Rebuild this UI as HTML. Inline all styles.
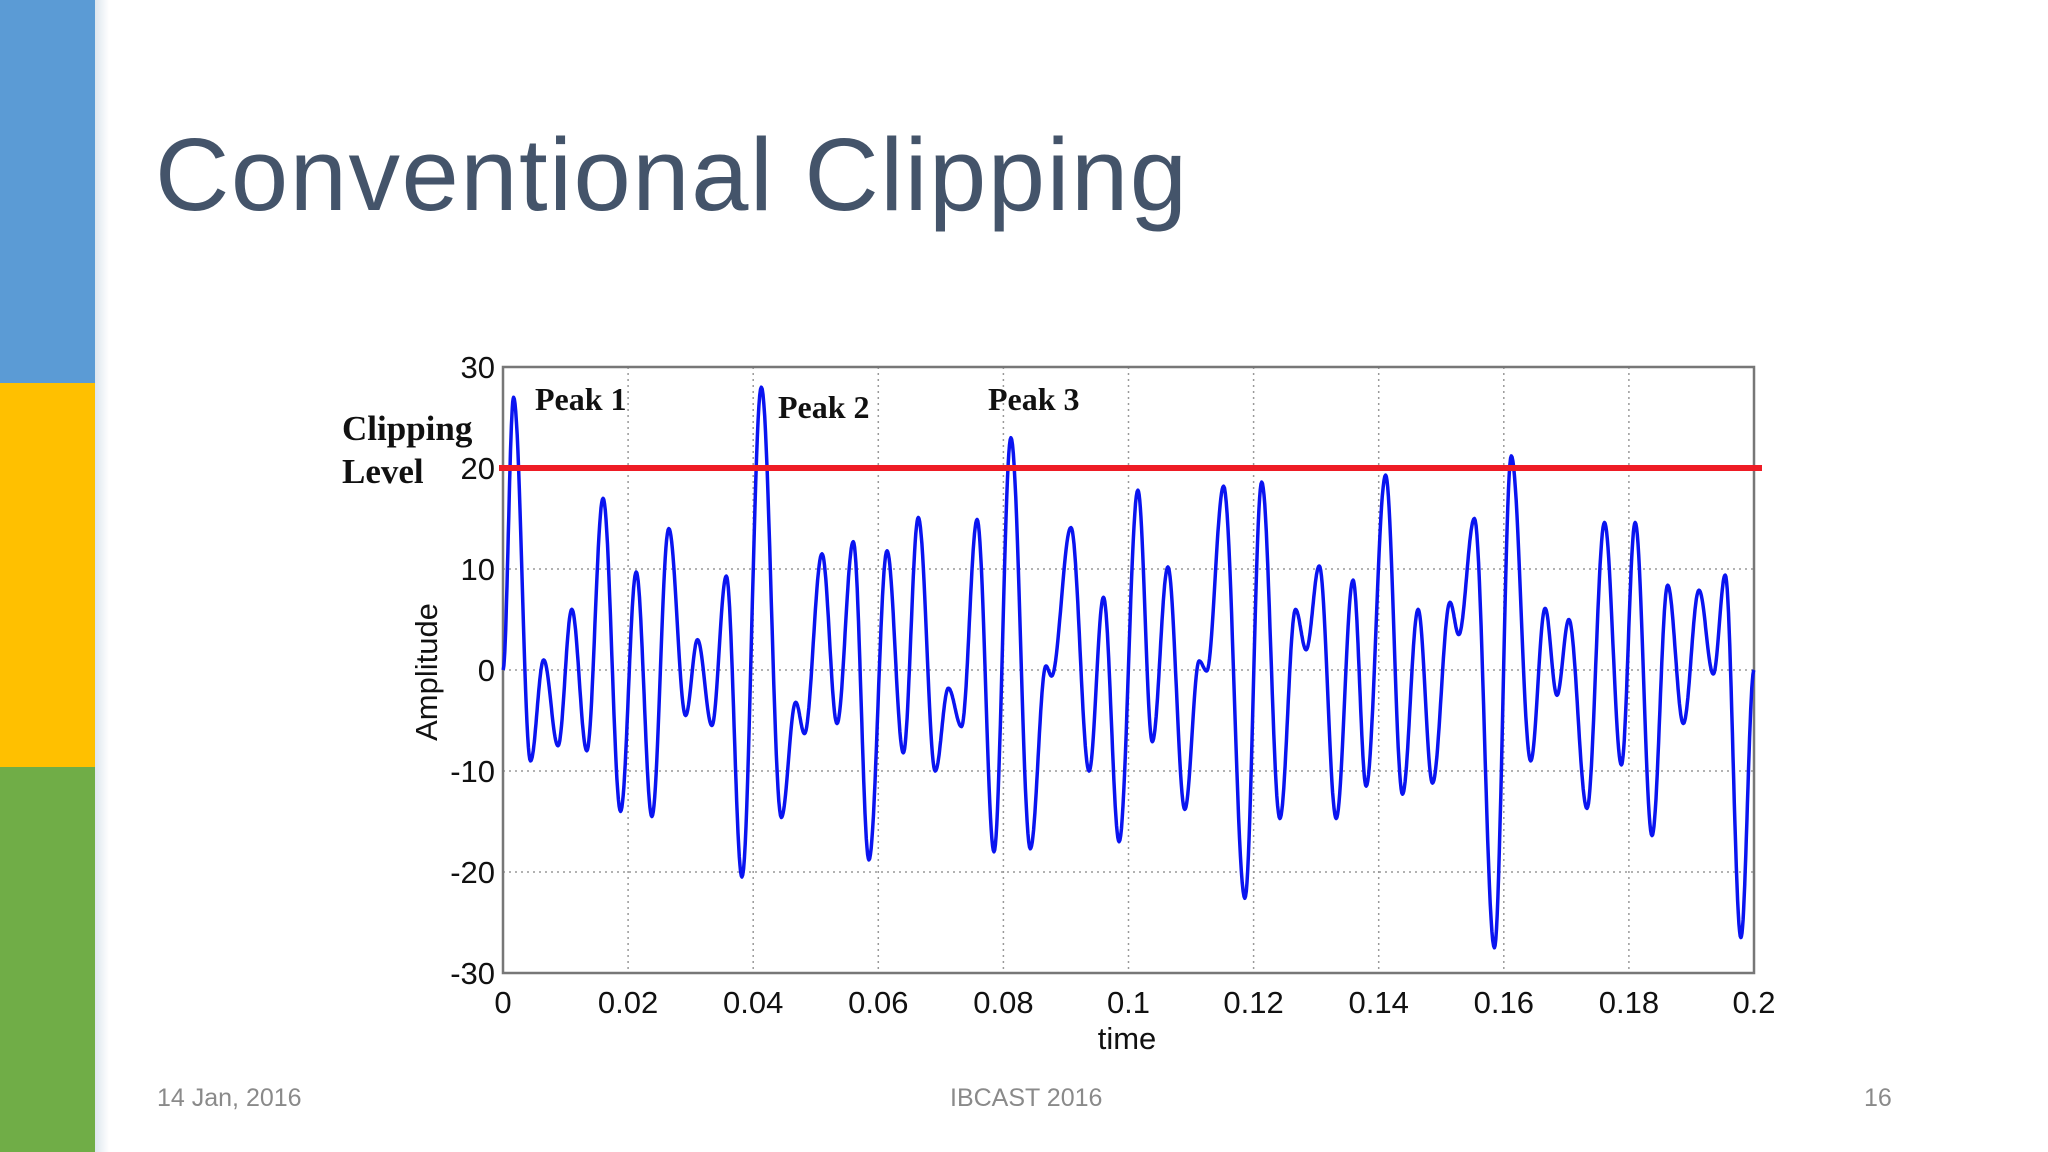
<!DOCTYPE html>
<html><head><meta charset="utf-8"><style>
html,body{margin:0;padding:0;width:2048px;height:1152px;overflow:hidden;background:#fff;font-family:"Liberation Sans",sans-serif}
.bar{position:absolute;left:0;width:95px}
.t{position:absolute;color:#8a8a8a;font-size:25px}
</style></head><body>
<div class="bar" style="top:0;height:383px;background:#5b9bd5"></div>
<div class="bar" style="top:383px;height:384px;background:#ffc000"></div>
<div class="bar" style="top:767px;height:385px;background:#70ad47"></div>
<div style="position:absolute;left:95px;top:0;width:14px;height:1152px;background:linear-gradient(to right,#dde6ee,#fff)"></div>
<div style="position:absolute;left:155px;top:116px;font-size:103px;color:#44546a;letter-spacing:1.5px">Conventional Clipping</div>
<div class="t" style="left:157px;top:1084px">14 Jan, 2016</div>
<div class="t" style="left:950px;top:1084px">IBCAST 2016</div>
<div class="t" style="left:1864px;top:1084px">16</div>
<svg id="chart" width="2048" height="1152" style="position:absolute;left:0;top:0"></svg>
<script>
const yTicks=[30,20,10,0,-10,-20,-30];
const xTicks=[0,0.02,0.04,0.06,0.08,0.1,0.12,0.14,0.16,0.18,0.2];
const xTickLabels=["0","0.02","0.04","0.06","0.08","0.1","0.12","0.14","0.16","0.18","0.2"];
const clipLevel=20;
const extT=[0,0.0017,0.0044,0.0065,0.0088,0.011,0.0134,0.016,0.0188,0.0213,0.0238,0.0265,0.0292,0.0311,0.0334,0.0357,0.0382,0.0413,0.0445,0.0468,0.0482,0.051,0.0534,0.056,0.0585,0.0614,0.064,0.0664,0.0691,0.0712,0.0733,0.0758,0.0785,0.0812,0.0843,0.0868,0.0877,0.0908,0.0937,0.096,0.0985,0.1015,0.1038,0.1063,0.109,0.1113,0.1125,0.1152,0.1186,0.1213,0.1242,0.1267,0.1284,0.1305,0.1332,0.1359,0.138,0.1411,0.1438,0.1463,0.1486,0.1514,0.1528,0.1553,0.1585,0.1612,0.1643,0.1666,0.1685,0.1704,0.1733,0.1761,0.1788,0.181,0.1837,0.1862,0.1887,0.1912,0.1935,0.1954,0.1979,0.2];
const extV=[0,27,-9,1,-7.5,6,-8,17,-14,9.7,-14.5,14,-4.5,3,-5.5,9.3,-20.5,28,-14.6,-3.2,-6.3,11.5,-5.3,12.7,-18.8,11.8,-8.2,15.1,-10,-1.8,-5.6,14.9,-18,23,-17.7,0.4,-0.6,14.1,-10,7.2,-17,17.8,-7.1,10.2,-13.8,0.9,-0.1,18.2,-22.6,18.6,-14.7,6,2,10.3,-14.7,8.9,-11.5,19.3,-12.3,6,-11.2,6.7,3.5,15,-27.5,21.2,-9,6.1,-2.5,5,-13.7,14.6,-9.4,14.6,-16.4,8.4,-5.3,7.9,-0.4,9.4,-26.5,0];
const peakLabels=["Peak 1","Peak 2","Peak 3"];
const L=503,R=1754,T=367,B=973;
const X=t=>L+(t-0)/(0.2)*(R-L);
const Y=v=>B-(v+30)/60*(B-T);
const svg=document.getElementById('chart');
const NS='http://www.w3.org/2000/svg';
function mk(tag,attrs){const e=document.createElementNS(NS,tag);for(const k in attrs)e.setAttribute(k,attrs[k]);svg.appendChild(e);return e;}
mk('rect',{x:L,y:T,width:R-L,height:B-T,fill:'#fff',stroke:'none'});
yTicks.forEach(v=>{
 const g=mk('line',{x1:L,x2:R,y1:Y(v),y2:Y(v),stroke:'#999','stroke-width':1.5,'stroke-dasharray':'2,4'});
 
 const t=mk('text',{x:L-8,y:Y(v)+11,'text-anchor':'end','font-size':31,fill:'#111','font-family':'Liberation Sans'});
 t.textContent=String(v);
 
});
xTicks.forEach((v,i)=>{
 const g=mk('line',{x1:X(v),x2:X(v),y1:T,y2:B,stroke:'#999','stroke-width':1.5,'stroke-dasharray':'2,4'});
 
 const t=mk('text',{x:X(v),y:B+40,'text-anchor':'middle','font-size':31,fill:'#111','font-family':'Liberation Sans'});
 t.textContent=xTickLabels[i];
 
});
const fr=mk('rect',{x:L,y:T,width:R-L,height:B-T,fill:'none',stroke:'#777','stroke-width':2.5});

let d='';
for(let i=0;i<extT.length-1;i++){
 const n=24;
 for(let k=0;k<=n;k++){
  if(i>0&&k===0)continue;
  const f=k/n, s=(1-Math.cos(Math.PI*f))/2;
  const t=extT[i]+(extT[i+1]-extT[i])*f, v=extV[i]+(extV[i+1]-extV[i])*s;
  d+=(d?'L':'M')+X(t).toFixed(1)+','+Y(v).toFixed(1);
 }
}
const sig=mk('path',{d:d,fill:'none',stroke:'#0a14f0','stroke-width':3.5,'stroke-linejoin':'round'});

const cl=mk('line',{x1:L-4,x2:R+8,y1:Y(clipLevel),y2:Y(clipLevel),stroke:'#ee1c25','stroke-width':6});

const px=[535,778,988],py=[410,418,410];
peakLabels.forEach((s,i)=>{
 const t=mk('text',{x:px[i],y:py[i],'font-size':32,'font-weight':'bold',fill:'#111','font-family':'Liberation Serif'});
 t.textContent=s;
 
});
const c1=mk('text',{x:342,y:440,'font-size':35,'font-weight':'bold',fill:'#111','font-family':'Liberation Serif'});c1.textContent='Clipping';

const c2=mk('text',{x:342,y:483,'font-size':35,'font-weight':'bold',fill:'#111','font-family':'Liberation Serif'});c2.textContent='Level';

const xt=mk('text',{x:1127,y:1049,'text-anchor':'middle','font-size':31,fill:'#111','font-family':'Liberation Sans'});xt.textContent='time';

const yt=mk('text',{x:0,y:0,'text-anchor':'middle','font-size':31,fill:'#111','font-family':'Liberation Sans',transform:'translate(437,672) rotate(-90)'});yt.textContent='Amplitude';

</script>
</body></html>
